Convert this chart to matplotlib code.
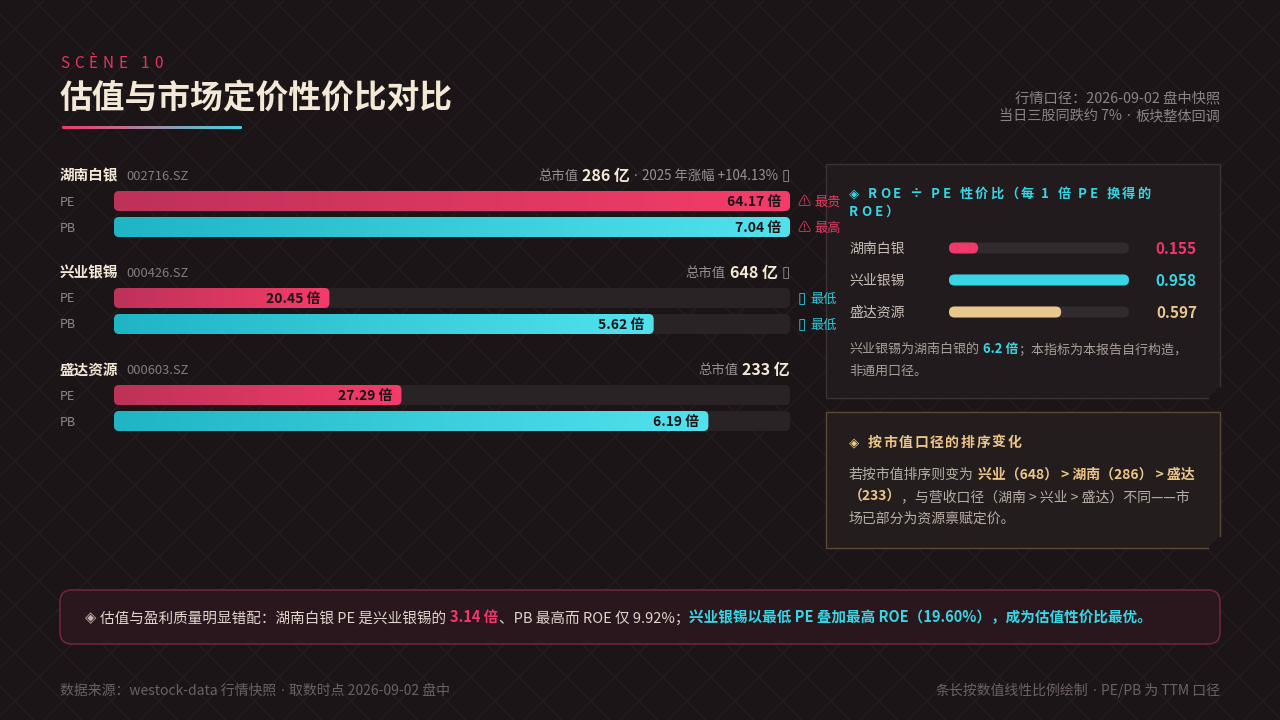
import matplotlib
matplotlib.use('Agg')
import matplotlib.pyplot as plt
from matplotlib.patches import FancyBboxPatch, Polygon
from matplotlib.collections import LineCollection
from matplotlib.colors import LinearSegmentedColormap
import numpy as np

CJK = ['Noto Sans CJK SC', 'DejaVu Sans']
LAT = ['Noto Sans', 'DejaVu Sans']
plt.rcParams['font.family'] = CJK

# ---------------- data ----------------
companies = ['湖南白银', '兴业银锡', '盛达资源']
codes = ['002716.SZ', '000426.SZ', '000603.SZ']
pe_ttm = [64.17, 20.45, 27.29]
pb_ttm = [7.04, 5.62, 6.19]
market_cap = [286, 648, 233]          # 亿
cap_notes = ['· 2025 年涨幅 +104.13%', '', '']
cap_marks = ['▯', '▯', '']
roe_per_pe = [0.155, 0.958, 0.597]
roe_values = [9.92, 19.60]            # 湖南白银, 兴业银锡 (%)
metric_labels = ['PE', 'PB']

# ---------------- style ----------------
BG = '#1c1518'
PINK = '#f0386a'
CYAN = '#38d6e5'
GOLD = '#ecc58a'
CREAM = '#f3e9d6'
GREY = '#8d8385'
PX = 100 / 72.0

W, H = 1280, 720
fig = plt.figure(figsize=(12.8, 7.2), dpi=100)
fig.patch.set_facecolor(BG)
ax = fig.add_axes([0, 0, 1, 1])
ax.set_facecolor(BG)
ax.set_xlim(0, W)
ax.set_ylim(H, 0)
ax.axis('off')
renderer = fig.canvas.get_renderer()

# background lattice
segs = []
for k in range(-2000, 3000, 48):
    a = k + 28
    segs.append([(a, 0), (a - 720, 720)])
    b = k - 2
    segs.append([(-b, 0), (720 - b, 720)])
ax.add_collection(LineCollection(segs, colors='#272023', linewidths=0.8, zorder=0))


def txt(x, y, s, size, color, weight='normal', ha='left', z=6, family=None):
    base = y + 0.36 * size * PX
    return ax.text(x, base, s, fontsize=size, color=color, fontweight=weight,
                   ha=ha, va='baseline', zorder=z, family=family or CJK)


def width(t):
    return t.get_window_extent(renderer).width


def runs(x, y, parts, ha='left'):
    objs = []
    total = 0
    for i, p in enumerate(parts):
        s, size, color, weight, gap = p[:5]
        fam = p[5] if len(p) > 5 else None
        t = txt(0, y, s, size, color, weight, family=fam)
        w = width(t)
        if i == len(parts) - 1:
            gap = 0
        objs.append((t, w, gap))
        total += w + gap
    cur = x if ha == 'left' else x - total
    for t, w, gap in objs:
        t.set_x(cur)
        cur += w + gap
    return cur


def dotted(s, size, color, weight='normal', gap_end=0):
    """split text on '·' so the middle dot is drawn narrow (Latin font)."""
    pieces = s.split('·')
    parts = []
    sp = 0.3 * size * PX
    for j, pc in enumerate(pieces):
        pc = pc.strip()
        if pc:
            parts.append((pc, size, color, weight, sp + 1.0))
        if j < len(pieces) - 1:
            parts.append(('·', size, color, 'normal', sp, LAT))
    if parts:
        last = parts[-1]
        parts[-1] = last[:4] + (gap_end,) + last[5:]
    return parts


def spaced(x, y, s, size, color, weight, spacing):
    cur = x
    for ch in s:
        if ch == ' ':
            cur += 0.26 * size * PX + spacing
            continue
        t = txt(cur, y, ch, size, color, weight)
        if ord(ch) >= 0x2E80:
            adv = size * PX
        else:
            adv = width(t) + 1.0
        cur += adv + spacing
    return cur


def grad_rect(x0, yc, w, h, colors, r, z=3):
    patch = FancyBboxPatch((x0, yc - h / 2), w, h,
                           boxstyle=f'round,pad=0,rounding_size={r}',
                           fc='none', ec='none', zorder=z)
    ax.add_patch(patch)
    cmap = LinearSegmentedColormap.from_list('g', colors)
    grad = np.linspace(0, 1, 256).reshape(1, -1)
    im = ax.imshow(grad, extent=[x0, x0 + w, yc + h / 2, yc - h / 2], cmap=cmap,
                   aspect='auto', zorder=z, interpolation='bilinear')
    im.set_clip_path(patch)


def rbox(x0, yc, w, h, color, r, z=2):
    ax.add_patch(FancyBboxPatch((x0, yc - h / 2), w, h,
                                boxstyle=f'round,pad=0,rounding_size={r}',
                                fc=color, ec='none', zorder=z))


# ---------------- header ----------------
spaced(60, 62, 'SCÈNE 10', 11, '#e8365d', 'normal', 4.0)
txt(60, 97, '估值与市场定价性价比对比', 23.6, CREAM, 'bold')
grad_rect(62, 127.5, 180, 3, ['#f0386a', '#a48aa2', '#3dd6e6'], 1.2)
txt(1220, 97, '行情口径：2026-09-02 盘中快照', 10.3, GREY, ha='right')
runs(1220, 115, dotted('当日三股同跌约 7% · 板块整体回调', 10.2, GREY), ha='right')

# ---------------- left bars ----------------
TX0, TX1 = 114, 790
TW = TX1 - TX0
metrics = [pe_ttm, pb_ttm]
grads = [['#bd3258', '#f53c6a'], ['#1fb5c5', '#52e2ee']]
flag_hi = ['最贵', '最高']
for i, name in enumerate(companies):
    hy = 175 + 97 * i
    runs(60, hy, [(name, 10.5, CREAM, 'bold', 8), (codes[i], 9.3, '#857b7d', 'normal', 0)])
    parts = [('总市值', 9.6, '#9a9092', 'normal', 4),
             (f'{market_cap[i]} 亿', 11.5, CREAM, 'bold', 4)]
    if cap_notes[i]:
        parts += dotted(cap_notes[i], 9.6, '#9a9092', gap_end=4)
    if cap_marks[i]:
        parts.append((cap_marks[i], 11, '#9a9092', 'normal', 0, LAT))
    runs(790, hy, parts, ha='right')
    for m in range(2):
        vals = metrics[m]
        yc = hy + 26 + 26 * m
        txt(60, yc, metric_labels[m], 9, '#8f8587')
        rbox(TX0, yc, TW, 20, '#2a2325', 5)
        bw = TW * vals[i] / max(vals)
        grad_rect(TX0, yc, bw, 20, grads[m], 5)
        txt(TX0 + bw - 9, yc, f'{vals[i]:.2f} 倍', 10, '#1a1214', 'bold', ha='right')
        if vals[i] == max(vals):
            runs(797, yc, [('⚠', 9.5, '#e8385f', 'normal', 4),
                           (flag_hi[m], 9.5, '#e8385f', 'normal', 0)])
        elif vals[i] == min(vals):
            runs(798, yc, [('▯', 11, '#2fc9d8', 'normal', 4, LAT),
                           ('最低', 9.5, '#2fc9d8', 'normal', 0)])

# ---------------- right panels ----------------
def panel(x0, y0, x1, y1, fc, ec, cut=12):
    ax.add_patch(Polygon([(x0, y0), (x1, y0), (x1, y1 - cut), (x1 - cut, y1), (x0, y1)],
                         closed=True, fc=fc, ec='none', zorder=1))
    ax.plot([x1 - cut, x0, x0, x1, x1], [y1, y1, y0, y0, y1 - cut], color=ec, lw=1.0, zorder=1.5)

panel(826, 164, 1220, 398, '#221b1e', '#3b3335')
spaced(849, 193, '◈ ROE ÷ PE 性价比（每 1 倍 PE 换得的', 9.5, CYAN, 'bold', 2.0)
spaced(849, 211, 'ROE）', 9.5, CYAN, 'bold', 2.0)
roe_colors = [PINK, CYAN, '#e9c88e']
RX0, RX1 = 949, 1129
for i, name in enumerate(companies):
    yc = 248 + 32 * i
    txt(849, yc, name, 10, '#c9beb4')
    rbox(RX0, yc, RX1 - RX0, 11, '#322a2c', 5.5)
    rbox(RX0, yc, (RX1 - RX0) * roe_per_pe[i] / max(roe_per_pe), 11, roe_colors[i], 5.5, z=3)
    txt(1197, yc, f'{roe_per_pe[i]:.3f}', 11, roe_colors[i], 'bold', ha='right')
ratio = roe_per_pe[1] / roe_per_pe[0]
runs(849, 348, [(f'{companies[1]}为{companies[0]}的', 9.4, '#a99f99', 'normal', 4),
                (f'{ratio:.1f} 倍', 9.4, CYAN, 'bold', 0),
                ('；本指标为本报告自行构造，', 9.4, '#a99f99', 'normal', 0)])
txt(849, 370, '非通用口径。', 9.4, '#a99f99')

panel(826, 412, 1220, 548, '#241d1d', '#5b4934')
txt(849, 442, '◈', 9.5, GOLD, 'bold')
spaced(868, 442, '按市值口径的排序变化', 10, GOLD, 'bold', 1.6)
order = sorted(range(3), key=lambda k: -market_cap[k])
BODY = '#b9aea6'
seq1 = f'{companies[order[0]][:2]}（{market_cap[order[0]]}） > {companies[order[1]][:2]}（{market_cap[order[1]]}） > {companies[order[2]][:2]}'
runs(849, 474, [('若按市值排序则变为', 10, BODY, 'normal', 4), (seq1, 10, GOLD, 'bold', 0)])
runs(849, 496, [(f'（{market_cap[order[2]]}）', 10, GOLD, 'bold', 0),
                ('，与营收口径（湖南 > 兴业 > 盛达）不同——市', 10, BODY, 'normal', 0)])
txt(849, 518, '场已部分为资源禀赋定价。', 10, BODY)

# ---------------- callout ----------------
ax.add_patch(FancyBboxPatch((60, 590), 1160, 54, boxstyle='round,pad=0,rounding_size=12',
                            fc='#2a161d', ec='#6e2340', lw=1.2, zorder=1))
pe_ratio = pe_ttm[0] / pe_ttm[1]
NORM = '#e0d6cc'
runs(85, 617, [('◈', 10.5, '#bfb5ab', 'normal', 4),
               (f'估值与盈利质量明显错配：{companies[0]} PE 是{companies[1]}的', 10.5, NORM, 'normal', 4),
               (f'{pe_ratio:.2f} 倍', 10.5, PINK, 'bold', 0),
               (f'、PB 最高而 ROE 仅 {roe_values[0]:.2f}%；', 10.5, NORM, 'normal', 0),
               (f'{companies[1]}以最低 PE 叠加最高 ROE（{roe_values[1]:.2f}%），成为估值性价比最优。', 10.5, CYAN, 'bold', 0)])

# ---------------- footer ----------------
runs(60, 690, dotted('数据来源：westock-data 行情快照 · 取数时点 2026-09-02 盘中', 10, '#6b6163'))
runs(1220, 690, dotted('条长按数值线性比例绘制 · PE/PB 为 TTM 口径', 10, '#6b6163'), ha='right')

ax.set_xlim(0, W)
ax.set_ylim(H, 0)
fig.savefig('out.png', dpi=100, facecolor=BG)
